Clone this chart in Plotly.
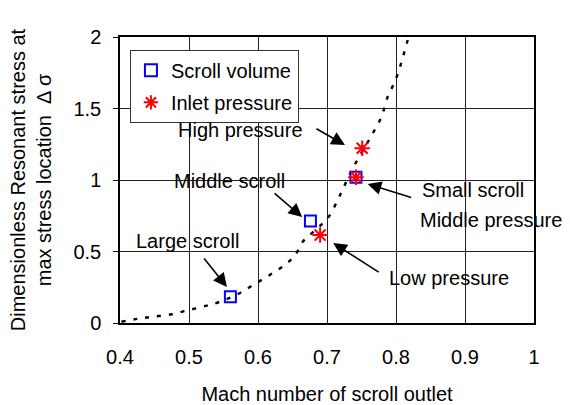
import plotly.graph_objects as go

# Data
curve_x = [0.402, 0.426, 0.448, 0.475, 0.500, 0.526, 0.545, 0.571, 0.593, 0.617, 0.639,
           0.654, 0.665, 0.680, 0.701, 0.719, 0.736, 0.750, 0.765, 0.779, 0.788, 0.796,
           0.803, 0.808, 0.817]
curve_y = [0.009, 0.030, 0.044, 0.061, 0.091, 0.121, 0.149, 0.203, 0.266, 0.336, 0.406,
           0.476, 0.569, 0.638, 0.734, 0.895, 1.070, 1.189, 1.315, 1.443, 1.583, 1.664,
           1.748, 1.827, 1.979]

scroll_x = [0.560, 0.676, 0.742]
scroll_y = [0.184, 0.713, 1.019]

inlet_x = [0.690, 0.742, 0.751]
inlet_y = [0.615, 1.019, 1.222]

x_ticks = [0.4, 0.5, 0.6, 0.7, 0.8, 0.9, 1.0]
x_tick_labels = ["0.4", "0.5", "0.6", "0.7", "0.8", "0.9", "1"]
y_ticks = [0, 0.5, 1.0, 1.5, 2.0]
y_tick_labels = ["0", "0.5", "1", "1.5", "2"]

FONT = "Liberation Sans, Arial, sans-serif"
FS = 20

fig = go.Figure()
fig.add_trace(go.Scatter(
    x=curve_x, y=curve_y, mode="lines", showlegend=False,
    line=dict(color="black", width=2.4, dash="4px,8px", shape="spline"),
    hoverinfo="skip"))
fig.add_trace(go.Scatter(
    x=scroll_x, y=scroll_y, mode="markers", name="Scroll volume",
    legendgroup="g1",
    marker=dict(symbol="square-open", size=11, color="#0000FF",
                line=dict(width=2, color="#0000FF"))))
fig.add_trace(go.Scatter(
    x=inlet_x, y=inlet_y, mode="markers", name="Inlet pressure",
    legendgroup="g2",
    marker=dict(symbol="asterisk-open", size=13, color="#FF0000",
                line=dict(width=2, color="#FF0000"))))

# Arrow annotations: (head x, head y, tail offset ax, ay)
arrows = [
    (0.726, 1.245, -30, -17),
    (0.664, 0.741, -29, -25),
    (0.555, 0.252, -24, -30),
    (0.759, 0.972, 45, 14),
    (0.709, 0.559, 47, 30),
]
for hx, hy, ax, ay in arrows:
    fig.add_annotation(x=hx, y=hy, xref="x", yref="y", ax=ax, ay=ay,
                       text="", showarrow=True, arrowhead=2, arrowsize=1.7,
                       arrowwidth=1.6, arrowcolor="black")

labels = [
    ("High pressure", 0.574, 1.350, "center"),
    ("Middle scroll", 0.559, 0.993, "center"),
    ("Large scroll", 0.4985, 0.573, "center"),
    ("Small scroll", 0.835, 0.930, "left"),
    ("Middle pressure", 0.832, 0.720, "left"),
    ("Low pressure", 0.787, 0.315, "left"),
]
for t, x, y, anc in labels:
    fig.add_annotation(x=x, y=y, xref="x", yref="y", text=t, showarrow=False,
                       xanchor=anc, yanchor="middle",
                       font=dict(size=FS, color="black", family=FONT))

fig.update_layout(
    width=570, height=405,
    margin=dict(l=120, r=36, t=37, b=82),
    paper_bgcolor="white", plot_bgcolor="white",
    font=dict(family=FONT, size=FS, color="black"),
    legend=dict(x=0.024, y=0.955, xanchor="left", yanchor="top",
                bgcolor="white", bordercolor="#333333", borderwidth=1,
                font=dict(size=FS, family=FONT), itemsizing="constant",
                tracegroupgap=3),
    xaxis=dict(range=[0.4, 1.0], tickvals=x_ticks, ticktext=x_tick_labels,
               showgrid=True, gridcolor="#222222", gridwidth=1,
               showline=True, linecolor="black", linewidth=1.5, mirror=True,
               ticks="", ticklabelstandoff=15, zeroline=False, automargin=False,
               title=dict(text="Mach number of scroll outlet", standoff=22,
                          font=dict(size=FS))),
    yaxis=dict(range=[0, 2.0], tickvals=y_ticks, ticktext=y_tick_labels,
               showgrid=True, gridcolor="#222222", gridwidth=1,
               showline=True, linecolor="black", linewidth=1.5, mirror=True,
               ticks="outside", ticklen=5, tickcolor="black",
               ticklabelstandoff=8, zeroline=False, automargin=False,
               title=dict(text="Dimensionless Resonant stress at<br>max stress location  Δ σ",
                          standoff=16, font=dict(size=FS))),
)

fig.write_html("out.html")
